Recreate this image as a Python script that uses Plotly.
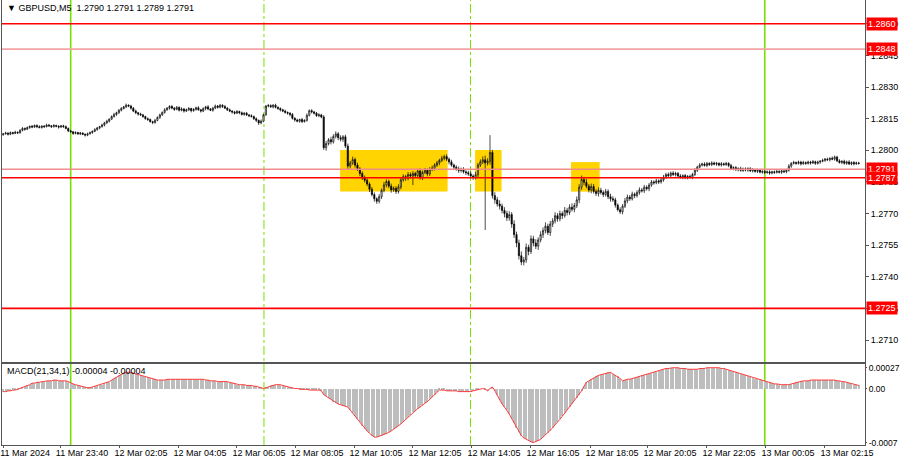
import plotly.graph_objects as go

# ---------------- data (prices in points = 1e-5 above BASE) ----------------
BASE = 1.27
first_open = 1074
closes = [
    1078,1082,1076,1084,1080,1086,1083,1095,1104,1100,
    1108,1114,1110,1118,1112,1108,1115,1112,1120,1116,
    1112,1118,1114,1110,1116,1112,1104,1092,1088,1080,
    1084,1078,1082,1076,1072,1078,1084,1090,1098,1106,
    1112,1120,1130,1138,1148,1160,1170,1178,1190,1198,
    1206,1214,1210,1200,1186,1178,1172,1168,1160,1150,
    1146,1136,1132,1142,1156,1168,1180,1192,1200,1208,
    1200,1194,1204,1190,1196,1186,1192,1198,1188,1194,
    1202,1192,1186,1198,1206,1196,1190,1200,1210,1204,
    1214,1208,1200,1192,1186,1182,1176,1184,1178,1170,
    1176,1168,1164,1160,1150,1142,1130,1138,1168,1210,
    1212,1206,1214,1204,1198,1192,1186,1180,1176,1170,
    1152,1144,1138,1146,1136,1142,1166,1188,1182,1176,
    1164,1168,1158,1012,1032,1050,1040,1066,1078,1060,
    1052,1064,1020,925,940,956,930,912,890,868,
    858,840,815,790,770,758,780,810,836,852,
    830,812,820,805,826,860,875,868,885,878,
    890,880,902,870,895,905,888,910,915,930,
    940,952,962,970,958,945,930,920,912,904,
    910,898,894,888,878,870,884,930,945,955,
    940,948,990,785,765,745,735,715,700,680,
    695,650,600,560,500,470,480,540,520,580,
    560,545,575,600,620,640,610,650,665,690,
    675,700,690,715,705,730,720,738,765,825,
    862,848,830,812,828,805,795,810,800,790,
    805,780,770,765,740,718,708,735,760,778,
    770,792,785,800,812,808,825,818,835,850,
    846,855,850,860,872,885,880,892,885,890,
    878,872,880,870,876,872,885,905,920,930,
    935,928,938,932,940,934,938,930,936,932,
    938,928,912,918,908,914,904,912,906,914,
    902,908,900,906,896,900,894,898,892,898,
    895,900,896,902,898,905,925,938,942,938,
    944,936,942,938,944,940,946,938,944,948,
    952,958,955,962,958,968,950,942,948,938,
    945,935,942,936,940,938,
]
upper_wick = [
    4,6,3,5,4,7,3,5,6,4, 5,3,6,4,5,7,3,4,6,5, 4,6,3,5,4,5,6,4,5,3,
    6,4,5,3,4,6,5,4,7,5, 4,6,5,7,4,6,8,5,6,7, 5,8,4,6,5,7,4,6,5,4,
    6,5,4,7,5,6,4,8,5,6, 7,5,6,4,8,5,6,7,4,6, 5,7,4,6,5,8,4,6,7,5,
    6,4,7,5,6,4,5,7,4,6, 5,6,4,7,5,6,4,8,6,5, 8,6,5,7,4,6,5,7,4,5,
    7,5,6,4,8,5,9,6,7,5, 6,8,5,9,12,8,14,10,12,9, 11,8,10,12,10,14,9,11,8,10,
    12,9,8,11,10,7,12,9,14,10, 9,12,8,10,13,9,11,8,12,10, 11,8,10,12,9,11,8,10,12,9,
    10,8,12,9,11,8,10,7,9,11, 8,10,7,9,12,8,14,10,12,16, 20,14,82,12,16,14,18,12,15,13,
    16,12,18,14,16,20,14,18,12,16, 14,18,12,16,14,18,12,15,13,16, 12,14,10,16,12,14,18,12,16,14,
    18,12,16,10,14,12,10,14,12,10, 12,10,14,12,10,8,12,10,14,12, 10,12,8,10,12,9,11,8,10,9,
    8,10,7,9,11,8,10,7,9,8, 7,9,6,8,7,9,8,10,7,9, 6,8,7,5,8,6,7,5,8,6,
    7,5,8,6,7,5,8,6,7,5, 6,8,5,7,6,5,8,6,7,5, 6,7,5,8,6,7,9,6,8,5,
    7,6,8,5,7,6,8,5,7,6, 8,6,7,5,9,7,6,8,5,7, 6,8,5,7,6,5,
]
lower_wick = [
    5,3,6,4,5,3,6,4,5,7, 4,6,5,3,7,4,5,6,3,5, 6,4,5,7,3,5,4,6,5,7,
    4,5,6,4,7,5,3,6,4,5, 6,4,7,5,6,4,5,7,5,6, 4,6,5,7,5,6,8,4,6,5,
    7,5,8,6,4,7,5,6,4,7, 5,7,4,6,5,7,4,6,8,5, 6,4,7,5,8,6,4,7,5,6,
    5,7,4,6,5,8,6,4,7,5, 6,5,7,4,6,8,10,6,5,4, 6,4,7,5,6,8,5,6,7,9,
    6,8,5,7,6,4,6,5,7,6, 5,7,6,10,14,9,12,8,10,12, 10,12,9,14,11,9,12,10,13,9,
    11,10,13,9,14,12,10,11,9,12, 10,13,9,12,10,11,9,13,10,12, 43,10,12,9,11,8,12,10,9,11,
    9,11,8,10,9,12,8,10,9,11, 10,8,12,9,11,10,8,12,9,10, 318,12,16,14,18,12,16,14,18,15,
    14,18,16,20,18,15,16,14,18,12, 16,14,18,12,16,14,12,16,14,12, 14,12,16,10,14,12,10,14,12,16,
    12,14,10,12,16,10,12,14,10,12, 10,12,14,10,12,8,10,12,9,11, 10,8,12,9,11,8,10,9,12,8,
    9,7,10,8,9,7,8,10,7,9, 8,6,9,7,8,6,9,7,8,6, 7,5,8,6,7,5,8,6,7,5,
    6,8,5,7,6,8,5,7,6,8, 5,7,6,8,5,7,6,5,8,6, 7,5,6,8,5,7,6,8,5,7,
    6,8,5,7,6,8,5,7,6,8, 5,7,6,8,5,7,6,5,8,6, 7,5,6,8,5,6,
]
# MACD(21,34,1) main value per bar, units of 1e-5
macd_vals = [
    -4,-4,-3,-3,-2,-2,-1,0,1,2, 4,5,7,7,8,8,9,9,10,10, 10,11,11,10,10,10,10,9,7,6,
    5,4,3,2,1,1,1,2,3,3, 4,5,7,8,9,11,13,15,17,19, 20,21,21,21,20,19,18,17,16,15,
    15,14,13,12,11,11,11,11,12,12, 12,12,12,12,12,12,12,12,12,12, 12,12,12,12,11,11,10,10,10,9,
    9,9,9,9,8,7,6,5,5,5, 5,4,4,4,3,3,2,1,0,1, 2,4,5,5,5,5,4,3,2,1,
    1,0,0,-1,-1,-1,-1,-2,-2,-2, -2,-2,-3,-8,-10,-12,-14,-17,-19,-20, -21,-22,-23,-24,-28,-32,-36,-40,-44,-48,
    -52,-55,-58,-61,-63,-63,-62,-61,-60,-59, -57,-55,-53,-51,-49,-46,-43,-40,-37,-34, -31,-29,-26,-24,-21,-19,-17,-14,-11,-8,
    -5,-2,-2,-2,-3,-3,-3,-3,-3,-4, -4,-4,-4,-4,-4,-3,-2,-1,0,0, -1,-3,0,2,-3,-9,-15,-20,-24,-28,
    -33,-39,-45,-51,-56,-61,-64,-66,-68,-69, -70,-69,-68,-66,-63,-60,-58,-55,-51,-47, -44,-40,-36,-32,-28,-24,-20,-16,-12,-8,
    -3,3,8,10,12,14,16,17,18,19, 20,21,21,19,17,16,13,10,11,12, 12,13,14,15,16,17,18,19,19,20,
    21,22,23,24,25,26,26,27,27,27, 27,26,26,26,25,25,25,25,25,26, 26,26,27,27,27,27,27,27,26,26,
    25,24,23,22,21,20,19,18,17,16, 15,14,13,12,12,11,10,9,8,7, 6,6,5,5,5,5,5,6,7,8,
    9,10,10,10,10,11,11,11,11,11, 11,11,11,11,11,11,10,10,9,9, 8,7,6,5,5,4,
]

# time axis labels (bar positions) and texts
x_tick_pos = [0, 23.57, 48.05, 72.53, 97.01, 121.08, 145.56, 170.04, 194.52, 219.0,
              243.49, 267.55, 292.03, 316.51, 340.99]
x_tick_text = ["11 Mar 2024", "11 Mar 23:40", "12 Mar 02:05", "12 Mar 04:05", "12 Mar 06:05",
               "12 Mar 08:05", "12 Mar 10:05", "12 Mar 12:05", "12 Mar 14:05", "12 Mar 16:05",
               "12 Mar 18:05", "12 Mar 20:05", "12 Mar 22:05", "13 Mar 00:05", "13 Mar 02:15"]
price_ticks = [1.2710, 1.2725, 1.2740, 1.2755, 1.2770, 1.2785, 1.2800, 1.2815, 1.2830, 1.2845, 1.2860]
price_tick_text = ["1.2710", "1.2725", "1.2740", "1.2755", "1.2770", "1.2785", "1.2800",
                   "1.2815", "1.2830", "1.2845", "1.2860"]
macd_ticks = [0.00027, 0.0, -0.0007]
macd_tick_text = ["0.00027", "0.00", "-0.0007"]

levels = [1.2860, 1.2848, 1.2791, 1.2787, 1.2725]
level_text = ["1.2860", "1.2848", "1.2791", "1.2787", "1.2725"]
level_colors = ["#FF0000", "#F4A3A3", "#F08C8C", "#FF0000", "#FF0000"]
day_separators = [28, 316]          # 12 Mar 00:00, 13 Mar 00:00
session_marks = [108.2, 193.9]
zones = [(139.8, 184.4, 1.27804, 1.28001),
         (195.8, 206.8, 1.27804, 1.28001),
         (235.6, 247.5, 1.27804, 1.27944)]

# ---------------- build ----------------
n = min(len(closes), len(upper_wick), len(lower_wick), len(macd_vals))
idx = list(range(n))
opens_pts = [first_open] + closes[:n - 1]   # each M5 candle opens at previous close
o = [BASE + v * 1e-5 for v in opens_pts]
c = [BASE + v * 1e-5 for v in closes[:n]]
h = [BASE + (max(a, b) + w) * 1e-5 for a, b, w in zip(opens_pts, closes[:n], upper_wick[:n])]
l = [BASE + (min(a, b) - w) * 1e-5 for a, b, w in zip(opens_pts, closes[:n], lower_wick[:n])]
m = [v * 1e-5 for v in macd_vals[:n]]

FONT = "Liberation Sans, Arial, sans-serif"
fig = go.Figure()
fig.add_trace(go.Candlestick(
    x=idx, open=o, high=h, low=l, close=c, xaxis="x", yaxis="y",
    increasing=dict(line=dict(color="#000000", width=0.7), fillcolor="#FFFFFF"),
    decreasing=dict(line=dict(color="#000000", width=0.7), fillcolor="#000000"),
    whiskerwidth=0, showlegend=False, hoverinfo="skip"))
fig.add_trace(go.Bar(x=idx, y=m, xaxis="x2", yaxis="y2", width=0.45,
                     marker=dict(color="#BDBDBD", line=dict(width=0)),
                     showlegend=False, hoverinfo="skip"))
fig.add_trace(go.Scatter(x=idx, y=m, xaxis="x2", yaxis="y2", mode="lines",
                         line=dict(color="#FF3B3B", width=1),
                         showlegend=False, hoverinfo="skip"))

shapes = []
for x0, x1, y0, y1 in zones:
    shapes.append(dict(type="rect", xref="x", yref="y", x0=x0, x1=x1, y0=y0, y1=y1,
                       fillcolor="#FFD400", line=dict(width=0), layer="below"))
for xv in day_separators:
    shapes.append(dict(type="line", xref="x", yref="paper", x0=xv, x1=xv, y0=0, y1=1,
                       line=dict(color="#77E000", width=1.6), layer="below"))
for xv in session_marks:
    shapes.append(dict(type="line", xref="x", yref="paper", x0=xv, x1=xv, y0=0, y1=1,
                       line=dict(color="#77E000", width=1, dash="dashdot"), layer="below"))
for lv, col in zip(levels, level_colors):
    shapes.append(dict(type="line", xref="paper", yref="y", x0=0, x1=1, y0=lv, y1=lv,
                       line=dict(color=col, width=1.6), layer="above"))

annotations = []
for lv, txt in zip(levels, level_text):
    annotations.append(dict(x=1, xref="paper", y=lv, yref="y", xanchor="left", yanchor="middle",
                            xshift=1, text=txt, showarrow=False, bgcolor="#FF0000",
                            font=dict(family=FONT, size=9, color="#FFFFFF"), borderpad=1))
annotations.append(dict(x=0, xref="paper", y=1, yref="paper", xanchor="left", yanchor="top",
                        xshift=3, yshift=-1, showarrow=False,
                        text="▼ GBPUSD,M5  1.2790 1.2791 1.2789 1.2791",
                        font=dict(family=FONT, size=9, color="#000000")))
annotations.append(dict(x=0, xref="paper", y=0.182, yref="paper", xanchor="left", yanchor="top",
                        xshift=3, yshift=0, showarrow=False,
                        text="MACD(21,34,1) -0.00004 -0.00004",
                        font=dict(family=FONT, size=9, color="#000000")))

xr = [-0.5, 357.6]
axis_line = dict(showline=True, mirror=True, linecolor="#555555", linewidth=1,
                 showgrid=False, zeroline=False)
fig.update_layout(
    width=900, height=460, margin=dict(l=2, r=35, t=0, b=15, autoexpand=False),
    paper_bgcolor="#FFFFFF", plot_bgcolor="#FFFFFF",
    font=dict(family=FONT, size=9, color="#000000"),
    showlegend=False, bargap=0,
    xaxis=dict(domain=[0, 1], range=xr, anchor="y", showticklabels=False, ticks="",
               rangeslider=dict(visible=False), **axis_line),
    xaxis2=dict(domain=[0, 1], range=xr, anchor="y2", tickmode="array",
                tickvals=x_tick_pos, ticktext=x_tick_text, ticks="outside", ticklen=2,
                tickcolor="#555555", ticklabelshift=22, ticklabelstandoff=-3, **axis_line),
    yaxis=dict(domain=[0.1876, 1], range=[1.26998, 1.28713], side="right", anchor="x",
               tickmode="array", tickvals=price_ticks, ticktext=price_tick_text,
               ticks="outside", ticklen=3, tickcolor="#555555", **axis_line),
    yaxis2=dict(domain=[0, 0.182], range=[-0.000732, 0.000318], side="right", anchor="x2",
                tickmode="array", tickvals=macd_ticks, ticktext=macd_tick_text,
                ticks="outside", ticklen=1, tickcolor="#555555",
                tickfont=dict(family=FONT, size=8.5), **axis_line),
    shapes=shapes, annotations=annotations,
)
fig.write_html("out.html", config={"displayModeBar": False},
               post_script="document.body.style.margin='0px';document.body.style.overflow='hidden';")
